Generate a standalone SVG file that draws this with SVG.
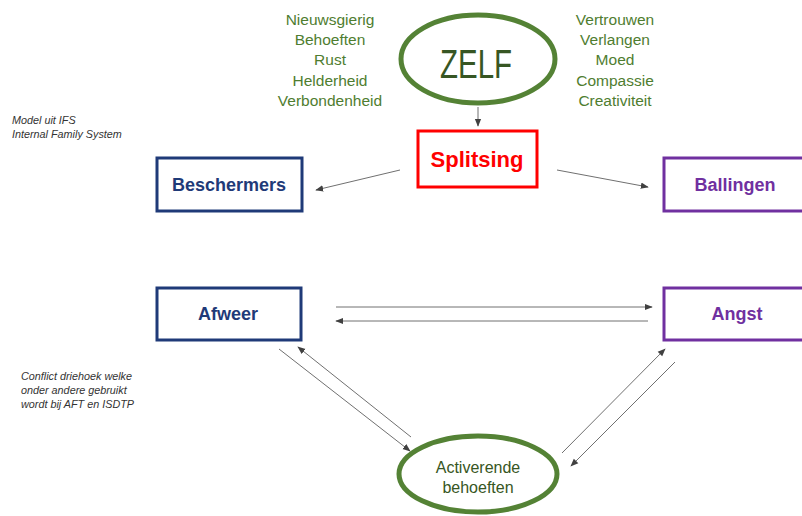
<svg xmlns="http://www.w3.org/2000/svg" width="802" height="516" viewBox="0 0 802 516">
  <style>
    .box { fill: #fff; stroke-width: 3; }
    .lbl { font-family: "Liberation Sans", Arial, sans-serif; font-weight: bold; font-size: 18px; text-anchor: middle; }
    .word { font-family: "Liberation Sans", Arial, sans-serif; font-size: 15.5px; fill: #4f7d30; text-anchor: middle; }
    .dark { fill: #375623; font-size: 16px; }
    .note { font-family: "Liberation Sans", Arial, sans-serif; font-style: italic; font-size: 10.8px; fill: #333; }
    .conn { stroke: #707070; stroke-width: 1; fill: none; marker-end: url(#head); }
  </style>
  <defs>
    <marker id="head" viewBox="0 0 10 10" refX="9" refY="5" markerWidth="8" markerHeight="8" orient="auto" markerUnits="userSpaceOnUse">
      <path d="M0,1 L10,5 L0,9 z" fill="#404040"/>
    </marker>
  </defs>
  <rect width="802" height="516" fill="#fff"/>

  <!-- side notes -->
  <g id="note-ifs">
    <text class="note" x="12" y="124">Model uit IFS</text>
    <text class="note" x="12" y="138">Internal Family System</text>
  </g>
  <g id="note-conflict">
    <text class="note" x="21" y="380">Conflict driehoek welke</text>
    <text class="note" x="21" y="394">onder andere gebruikt</text>
    <text class="note" x="21" y="408">wordt bij AFT en ISDTP</text>
  </g>

  <!-- qualities of the self -->
  <g id="qualities-left">
    <text class="word" x="330" y="25">Nieuwsgierig</text>
    <text class="word" x="330" y="45">Behoeften</text>
    <text class="word" x="330" y="65">Rust</text>
    <text class="word" x="330" y="86">Helderheid</text>
    <text class="word" x="330" y="106">Verbondenheid</text>
  </g>
  <g id="qualities-right">
    <text class="word" x="615" y="25">Vertrouwen</text>
    <text class="word" x="615" y="45">Verlangen</text>
    <text class="word" x="615" y="65">Moed</text>
    <text class="word" x="615" y="86">Compassie</text>
    <text class="word" x="615" y="106">Creativiteit</text>
  </g>

  <!-- connectors -->
  <g id="connectors">
    <line class="conn" x1="478" y1="107" x2="478" y2="126"/>
    <line class="conn" x1="400" y1="170" x2="316" y2="190"/>
    <line class="conn" x1="557" y1="170" x2="648" y2="187"/>
    <line class="conn" x1="336" y1="307" x2="652" y2="307"/>
    <line class="conn" x1="648" y1="321" x2="336" y2="321"/>
    <line class="conn" x1="279" y1="349" x2="410" y2="451"/>
    <line class="conn" x1="411" y1="437" x2="298" y2="347"/>
    <line class="conn" x1="562" y1="453" x2="665" y2="349"/>
    <line class="conn" x1="675" y1="362" x2="571" y2="466"/>
  </g>

  <g id="zelf">
    <ellipse cx="478" cy="59" rx="77" ry="44" fill="#fff" stroke="#548235" stroke-width="5"/>
    <text x="476" y="78" font-family="Liberation Sans, Arial, sans-serif" font-size="40" fill="#375623" text-anchor="middle" textLength="72" lengthAdjust="spacingAndGlyphs">ZELF</text>
  </g>

  <g id="splitsing">
    <rect class="box" x="418" y="131" width="119" height="56" stroke="#ff0000"/>
    <text class="lbl" x="477" y="167" fill="#ff0000" style="font-size:22px">Splitsing</text>
  </g>

  <g id="beschermers">
    <rect class="box" x="157" y="158" width="145" height="53" stroke="#1f3a78"/>
    <text class="lbl" x="229" y="191" fill="#1f3a78">Beschermers</text>
  </g>

  <g id="ballingen">
    <rect class="box" x="664" y="158" width="150" height="53" stroke="#7030a0"/>
    <text class="lbl" x="735" y="191" fill="#7030a0">Ballingen</text>
  </g>

  <g id="afweer">
    <rect class="box" x="157" y="288" width="144" height="52" stroke="#1f3a78"/>
    <text class="lbl" x="228" y="320" fill="#1f3a78">Afweer</text>
  </g>

  <g id="angst">
    <rect class="box" x="664" y="288" width="150" height="52" stroke="#7030a0"/>
    <text class="lbl" x="737" y="320" fill="#7030a0">Angst</text>
  </g>

  <g id="activerende-behoeften">
    <ellipse cx="478" cy="474" rx="79" ry="38" fill="#fff" stroke="#548235" stroke-width="5"/>
    <text class="word dark" x="478" y="473">Activerende</text>
    <text class="word dark" x="478" y="493">behoeften</text>
  </g>
</svg>
